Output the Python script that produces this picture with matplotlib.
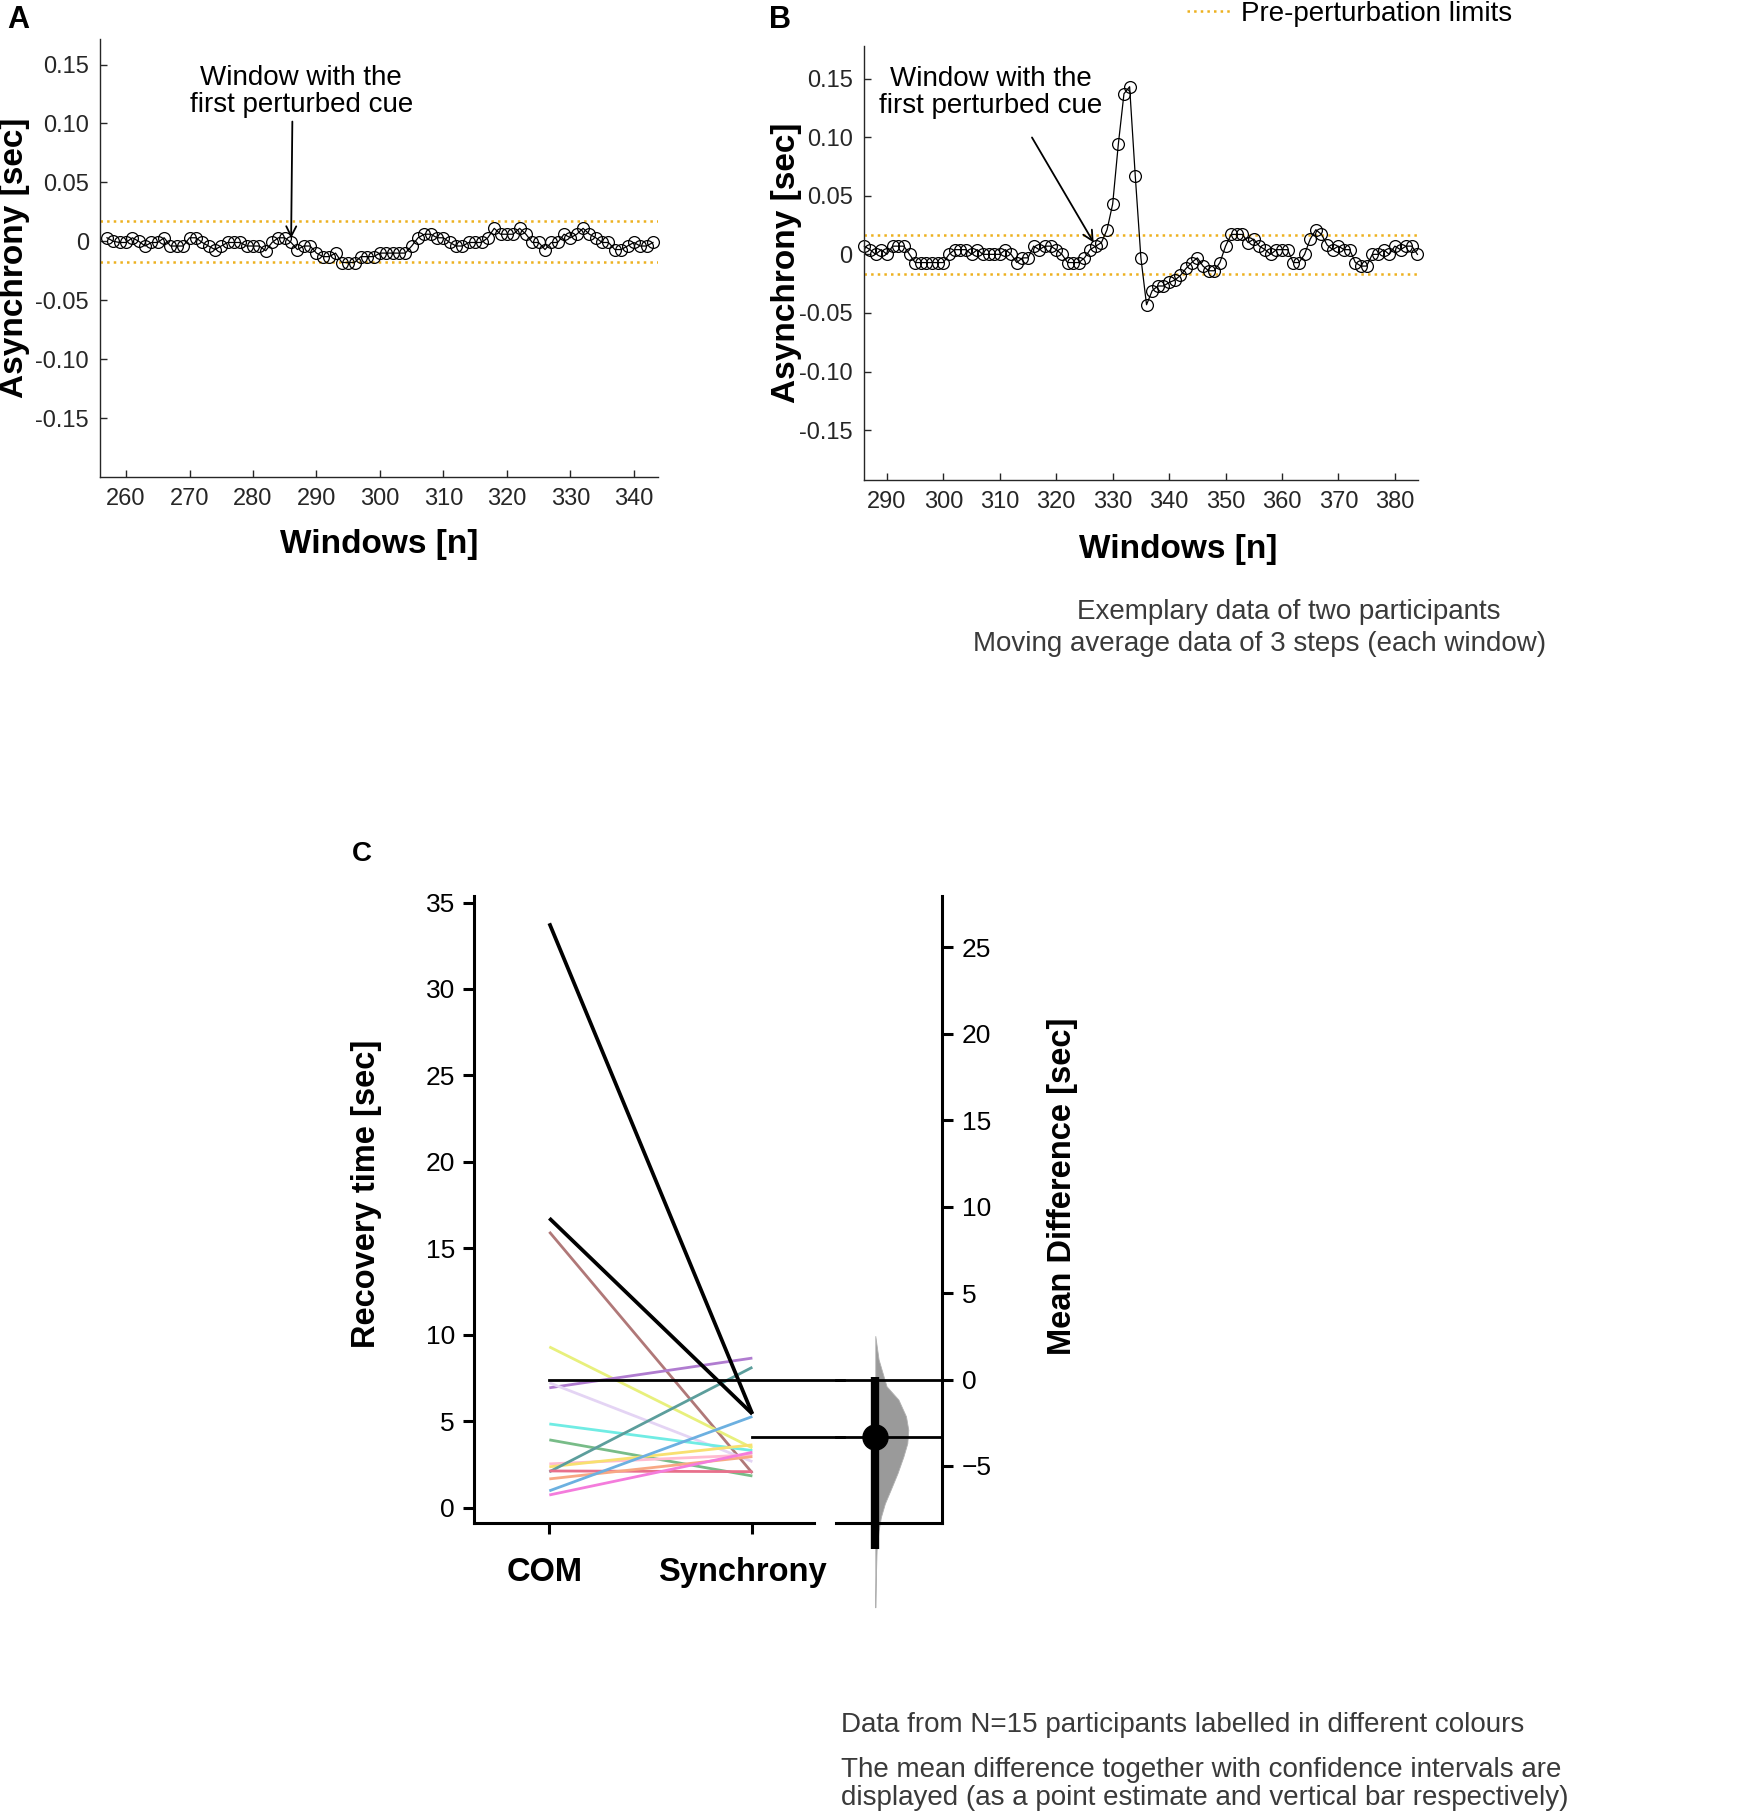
import numpy as np
import matplotlib
matplotlib.use('Agg')
import matplotlib.pyplot as plt
import matplotlib.transforms as mtransforms

plt.rcParams['font.family'] = ['Liberation Sans', 'DejaVu Sans']

# ---- panel A: asynchrony, windows 257..343
win_a_start = 257
asyn_a = [0.003, 0.000, -0.001, -0.001, 0.003, 0.000, -0.004, -0.001, -0.001, 0.003,
          -0.004, -0.004, -0.004, 0.003, 0.003, -0.001, -0.004, -0.007, -0.004, -0.001,
          -0.001, -0.001, -0.004, -0.004, -0.004, -0.008, -0.001, 0.003, 0.003, -0.001,
          -0.007, -0.004, -0.004, -0.010, -0.013, -0.013, -0.010, -0.018, -0.018, -0.018,
          -0.013, -0.013, -0.013, -0.010, -0.010, -0.010, -0.010, -0.010, -0.004, 0.003,
          0.006, 0.006, 0.003, 0.003, -0.001, -0.004, -0.004, -0.001, -0.001, -0.001,
          0.003, 0.011, 0.006, 0.006, 0.006, 0.011, 0.006, -0.001, -0.001, -0.007,
          -0.001, -0.001, 0.006, 0.003, 0.006, 0.011, 0.006, 0.003, -0.001, -0.001,
          -0.007, -0.007, -0.004, -0.001, -0.004, -0.004, -0.001]
limits_a = (-0.0178, 0.0175)
perturbed_a = 286

# ---- panel B: asynchrony, windows 286..384
win_b_start = 286
asyn_b = [0.007, 0.004, 0.000, 0.004, 0.000, 0.007, 0.007, 0.007, 0.000, -0.007,
          -0.007, -0.007, -0.007, -0.007, -0.007, 0.000, 0.004, 0.004, 0.004, 0.000,
          0.004, 0.000, 0.000, 0.000, 0.000, 0.004, 0.000, -0.007, -0.003, -0.003,
          0.007, 0.004, 0.007, 0.007, 0.004, 0.000, -0.007, -0.007, -0.007, -0.003,
          0.004, 0.007, 0.010, 0.021, 0.043, 0.094, 0.137, 0.143, 0.067, -0.003,
          -0.043, -0.031, -0.027, -0.027, -0.024, -0.022, -0.018, -0.012, -0.007, -0.003,
          -0.010, -0.014, -0.014, -0.007, 0.007, 0.017, 0.017, 0.017, 0.010, 0.013,
          0.007, 0.004, 0.000, 0.004, 0.004, 0.004, -0.007, -0.007, 0.000, 0.013,
          0.021, 0.017, 0.008, 0.004, 0.007, 0.004, 0.004, -0.007, -0.010, -0.010,
          0.000, 0.000, 0.004, 0.000, 0.007, 0.004, 0.007, 0.007, 0.000]
limits_b = (-0.0166, 0.0166)
perturbed_b = 327

yticks_ab = [-0.15, -0.10, -0.05, 0, 0.05, 0.10, 0.15]
ytick_labels_ab = ['-0.15', '-0.10', '-0.05', '0', '0.05', '0.10', '0.15']

# ---- panel C: recovery time per participant
groups = ['COM', 'Synchrony']
rec_com = [33.8, 16.74, 15.95, 9.30, 6.93, 7.22, 4.84, 3.92, 2.53, 2.36, 2.07, 2.12, 1.66, 0.97, 0.73]
rec_syn = [5.42, 5.42, 2.00, 3.45, 8.65, 2.66, 3.30, 1.83, 3.05, 3.63, 8.12, 2.08, 2.95, 5.27, 3.20]
line_colors = ['#000000', '#000000', '#b07878', '#e8f07c', '#b07cd0', '#e4d4f4', '#70ece4',
               '#78bc88', '#ffbcd0', '#f8e070', '#5c9e9c', '#e8708c', '#f8a884', '#6cb0e0',
               '#f47cdc']
ci_low, ci_high = -9.8, 0.16
boot_diff = [2.52, 1.16, -0.39, -1.16, -2.13, -2.91, -3.68, -4.46, -5.43, -6.40,
             -7.17, -7.95, -8.72, -9.88, -11.24, -13.18]
boot_density = [0.0, 0.10, 0.34, 0.70, 0.93, 1.0, 0.97, 0.85, 0.67, 0.46,
                0.29, 0.17, 0.10, 0.04, 0.02, 0.0]

W, H = 1748, 1811
fig = plt.figure(figsize=(W / 100, H / 100), dpi=100)
NOTE = 20  # size of the plain annotation / caption text


def box(l, t, r, b):
    return [l / W, 1 - b / H, (r - l) / W, (b - t) / H]


def series_panel(rect, start, vals, lims, xlim, ylim, xticks, txt_xy, tail, perturbed, ylab_x, xlab_x, xlab_y):
    ax = fig.add_axes(rect)
    x = np.arange(start, start + len(vals))
    ax.axhline(lims[0], color='#EDB120', ls=':', lw=1.8)
    ax.axhline(lims[1], color='#EDB120', ls=':', lw=1.8, label='Pre-perturbation limits')
    ax.plot(x, vals, color='k', lw=0.9, marker='o', ms=8.5, mfc='none', mew=0.9, clip_on=False)
    ax.set_xlim(*xlim)
    ax.set_ylim(*ylim)
    ax.set_xticks(xticks)
    ax.set_yticks(yticks_ab)
    ax.set_yticklabels(ytick_labels_ab)
    ax.tick_params(direction='in', length=5, width=1, colors='#262626', labelsize=17, pad=8)
    for s in ['top', 'right']:
        ax.spines[s].set_visible(False)
    for s in ['left', 'bottom']:
        ax.spines[s].set_color('#262626')
        ax.spines[s].set_linewidth(1.0)
    ax.text(txt_xy[0], txt_xy[1], 'Window with the\nfirst perturbed cue', ha='center', va='center',
            fontsize=NOTE, linespacing=1.05)
    i = perturbed - start
    ax.annotate('', xy=(perturbed, vals[i]), xytext=tail,
                arrowprops=dict(arrowstyle='->', lw=1.3, color='k', shrinkA=0, shrinkB=3,
                                mutation_scale=18))
    ax.set_ylabel('Asynchrony [sec]', fontsize=24, fontweight='bold')
    ax.yaxis.set_label_coords(ylab_x, 0.5)
    ax.set_xlabel('Windows [n]', fontsize=24, fontweight='bold')
    ax.xaxis.set_label_coords(xlab_x, xlab_y)
    return ax


ax_a = series_panel(box(100, 38.6, 658, 477), win_a_start, asyn_a, limits_a,
                    (255.9, 343.8), (-0.2, 0.172), range(260, 341, 10),
                    (287.6, 0.127), (286.2, 0.1016), perturbed_a, -0.125, 0.5, -0.119)
ax_b = series_panel(box(863.8, 46.4, 1418, 480), win_b_start, asyn_b, limits_b,
                    (285.9, 384.1), (-0.1925, 0.1774), range(290, 381, 10),
                    (308.4, 0.138), (315.7, 0.0997), perturbed_b, -0.112, 0.567, -0.125)

fig.text(18 / W, 1 - 20 / H, 'A', fontsize=22, fontweight='bold', ha='center', va='center')
fig.text(780 / W, 1 - 20 / H, 'B', fontsize=22, fontweight='bold', ha='center', va='center')

handles, labels = ax_b.get_legend_handles_labels()
fig.legend(handles, labels, loc='center left', bbox_to_anchor=(1187 / W, 1 - 14 / H),
           frameon=False, borderpad=0, borderaxespad=0, handlelength=1.55, handletextpad=0.4,
           fontsize=NOTE)

fig.text(1289 / W, 1 - 612 / H, 'Exemplary data of two participants', ha='center', va='center',
         fontsize=NOTE, color='#3a3a3a')
fig.text(1260 / W, 1 - 644 / H, 'Moving average data of 3 steps (each window)', ha='center',
         va='center', fontsize=NOTE, color='#3a3a3a')

# ---- panel C
ax_raw = fig.add_axes(box(474.4, 895.8, 813.7, 1523))
ax_diff = fig.add_axes(box(836, 895.8, 942.2, 1523))
ax_raw.patch.set_alpha(0)
ax_diff.patch.set_alpha(0)

mean_com = np.mean(rec_com)
mean_syn = np.mean(rec_syn)
delta = mean_syn - mean_com

for c, s, col in zip(rec_com, rec_syn, line_colors):
    black = col == '#000000'
    ax_raw.plot([0, 1], [c, s], color=col, lw=2.7 if black else 2.0,
                zorder=4 if black else 3, solid_capstyle='butt')

raw_ylim = (-0.89, 35.39)
ax_raw.set_xlim(-0.369, 1.302)
ax_raw.set_ylim(*raw_ylim)
ax_raw.plot([0, 1.45], [mean_com, mean_com], color='k', lw=2.0, clip_on=False, zorder=5)
ax_raw.plot([1, 1.45], [mean_syn, mean_syn], color='k', lw=2.0, clip_on=False, zorder=5)
ax_raw.set_xticks([0, 1])
ax_raw.tick_params(axis='x', length=8, width=2.2, labelbottom=False)
# group names, nudged left of their ticks as in the original figure
lab_trans = mtransforms.blended_transform_factory(ax_raw.transData, ax_raw.transAxes)
for i, (g, dx) in enumerate(zip(groups, [-5, -10])):
    ax_raw.text(i, -0.0796, g, fontsize=23.5, fontweight='bold', ha='center', va='center',
                transform=lab_trans + mtransforms.ScaledTranslation(dx / 100, 0, fig.dpi_scale_trans))
ax_raw.set_yticks(range(0, 36, 5))
ax_raw.tick_params(axis='y', labelsize=19, length=8, width=2.2, pad=6)
for s in ['top', 'right']:
    ax_raw.spines[s].set_visible(False)
for s in ['left', 'bottom']:
    ax_raw.spines[s].set_linewidth(2.2)
ax_raw.set_ylabel('Recovery time [sec]', fontsize=23.5, fontweight='bold')
ax_raw.yaxis.set_label_coords(-0.271, 0.525)

ax_diff.set_xlim(0, 106.2)
ax_diff.set_ylim(raw_ylim[0] - mean_com, raw_ylim[1] - mean_com)
cx = 39.3
dens = np.array(boot_density) * 33
ax_diff.fill_betweenx(boot_diff, cx, cx + dens, color='#9a9a9a', lw=0.6, edgecolor='#b0b0b0',
                      clip_on=False, zorder=2)
ax_diff.plot([0, 106.2], [0, 0], color='k', lw=2.0, clip_on=False, zorder=3)
ax_diff.plot([0, 106.2], [delta, delta], color='k', lw=2.0, clip_on=False, zorder=3)
ax_diff.plot([cx, cx], [ci_low, ci_high], color='k', lw=6, solid_capstyle='butt',
             clip_on=False, zorder=4)
ax_diff.plot([cx], [delta], marker='o', ms=18, color='k', clip_on=False, zorder=5)
ax_diff.yaxis.tick_right()
ax_diff.yaxis.set_label_position('right')
ax_diff.set_yticks(range(-5, 26, 5))
ax_diff.set_xticks([])
ax_diff.tick_params(axis='y', labelsize=19, length=8, width=2.2, pad=6)
for s in ['top', 'left']:
    ax_diff.spines[s].set_visible(False)
for s in ['right', 'bottom']:
    ax_diff.spines[s].set_linewidth(2.2)
ax_diff.set_ylabel('Mean Difference [sec]', fontsize=23.5, fontweight='bold')
ax_diff.yaxis.set_label_coords(1.983, 0.537)

fig.text(362 / W, 1 - 854 / H, 'C', fontsize=20, fontweight='bold', ha='center', va='center')

cap = dict(ha='left', va='center', fontsize=NOTE, color='#3a3a3a')
fig.text(841 / W, 1 - 1725 / H, 'Data from N=15 participants labelled in different colours', **cap)
fig.text(841 / W, 1 - 1770 / H, 'The mean difference together with confidence intervals are', **cap)
fig.text(841 / W, 1 - 1798 / H, 'displayed (as a point estimate and vertical bar respectively)', **cap)

fig.savefig('out.png', dpi=100)
